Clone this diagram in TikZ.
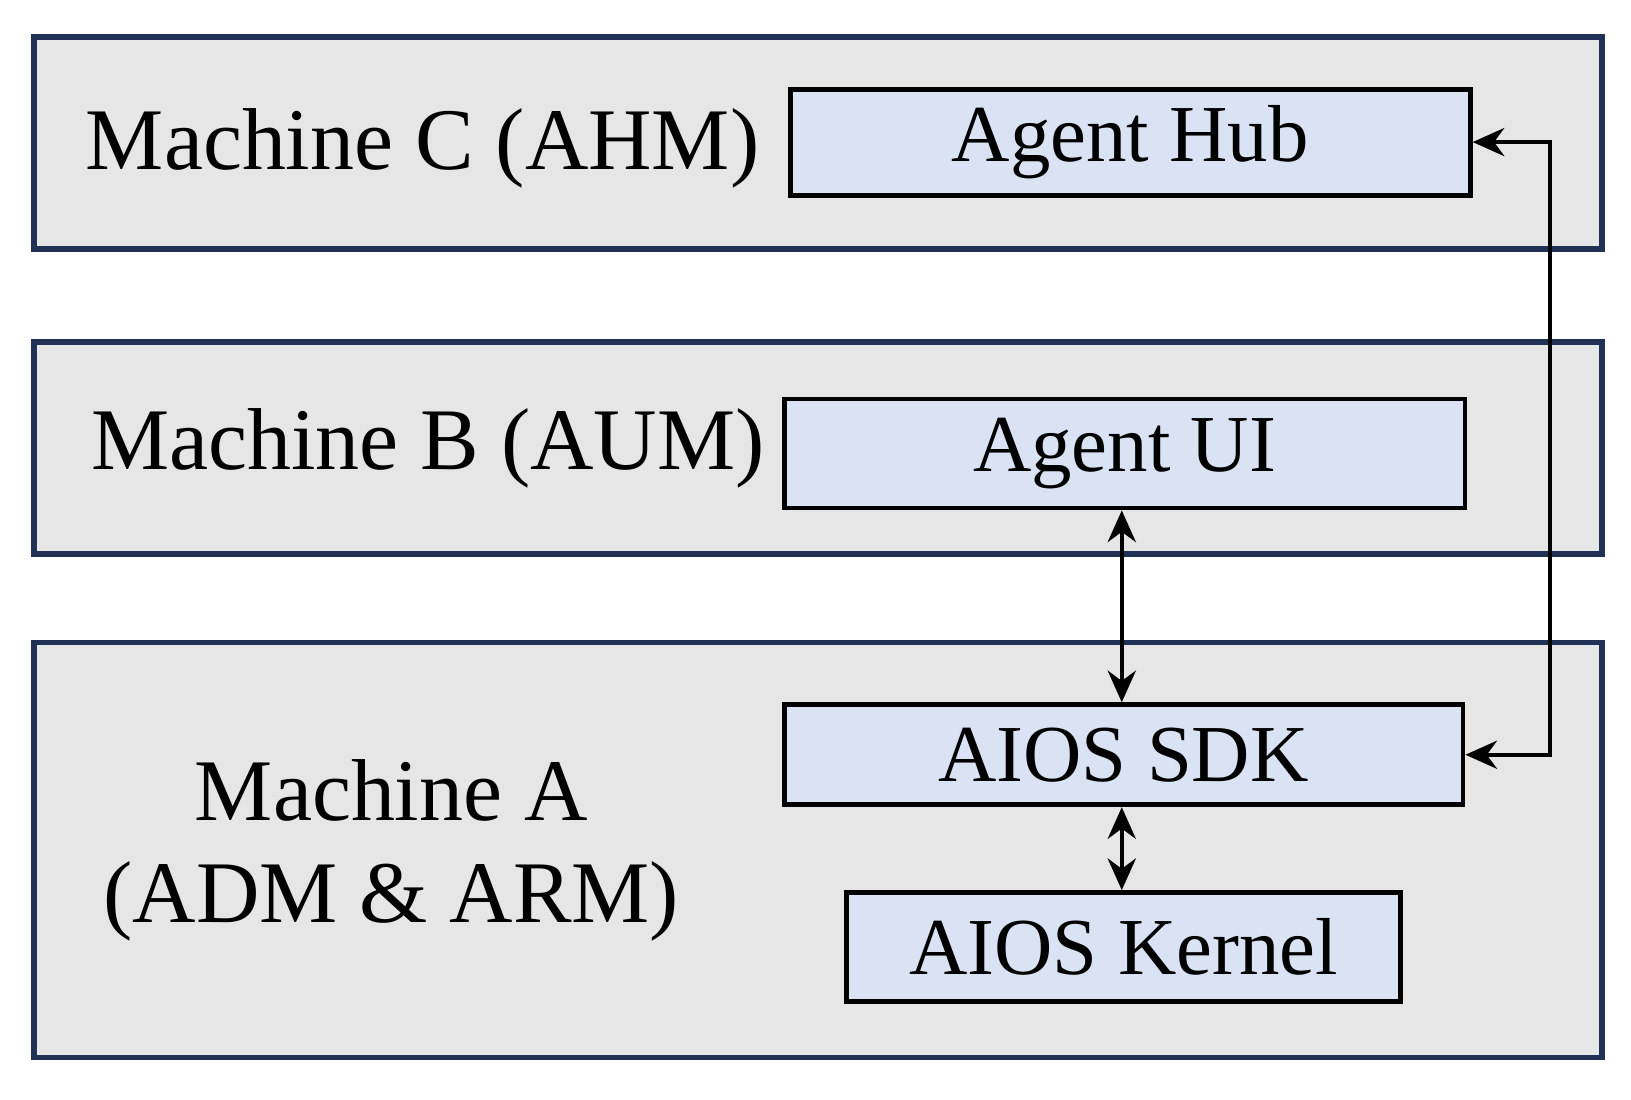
\documentclass[tikz,border=0pt]{standalone}
\usepackage{fontspec}
\setmainfont{Liberation Serif}
\usetikzlibrary{positioning}
\usetikzlibrary{arrows.meta}
\definecolor{machinefill}{HTML}{E6E6E6}
\definecolor{machineline}{HTML}{1F3256}
\definecolor{compfill}{HTML}{DAE3F3}

\begin{document}
\begin{tikzpicture}[
    x=0.010435cm, y=-0.010435cm,
    machine/.style={rectangle, draw=machineline, fill=machinefill, line width=1.6pt, anchor=north west, inner sep=0pt},
    comp/.style={rectangle, draw=black, fill=compfill, line width=1.4pt, anchor=north west, inner sep=0pt, font=\fontsize{23}{26}\selectfont},
    label/.style={font=\fontsize{25}{29}\selectfont, align=center},
    link/.style={{Stealth[length=9pt,width=8pt]}-{Stealth[length=9pt,width=8pt]}, line width=1.2pt}
]
\useasboundingbox (0,0) rectangle (1563,1054);
% Machines
\node[machine, minimum width=15.68cm, minimum height=2.12cm] (mc) at (30,33) {};
\node[machine, minimum width=15.68cm, minimum height=2.12cm] (mb) at (30,325) {};
\node[machine, minimum width=15.68cm, minimum height=4.15cm] (ma) at (30,613) {};
\node[label] (lc) at (405,142) {Machine C (AHM)};
\node[label] (lb) at (410,430) {Machine B (AUM)};
\node[label] (la) at (375,815) {Machine A\\(ADM \& ARM)};

% Components
\node[comp, minimum width=6.80cm, minimum height=1.06cm] (hub) at (755,83) {};
\node[comp, minimum width=6.81cm, minimum height=1.09cm] (ui) at (749,380) {};
\node[comp, minimum width=6.79cm, minimum height=1.00cm] (sdk) at (749,673) {};
\node[comp, minimum width=5.54cm, minimum height=1.09cm] (kernel) at (809,853) {};
\node[font=\fontsize{23}{26}\selectfont] at (hub.center) {Agent Hub};
\node[font=\fontsize{23}{26}\selectfont] at (ui.center) {Agent UI};
\node[font=\fontsize{23}{26}\selectfont] at (sdk.center) {AIOS SDK};
\node[font=\fontsize{23}{26}\selectfont] at (kernel.center) {AIOS Kernel};

% Links
\coordinate (bend) at (1485,0);
\draw[link] (hub.east) -- (bend |- hub.east) -- (bend |- sdk.east) -- (sdk.east);
\draw[link] (ui.south -| 1075,0) -- (sdk.north -| 1075,0);
\draw[link] (sdk.south -| 1075,0) -- (kernel.north -| 1075,0);
\end{tikzpicture}
\end{document}
